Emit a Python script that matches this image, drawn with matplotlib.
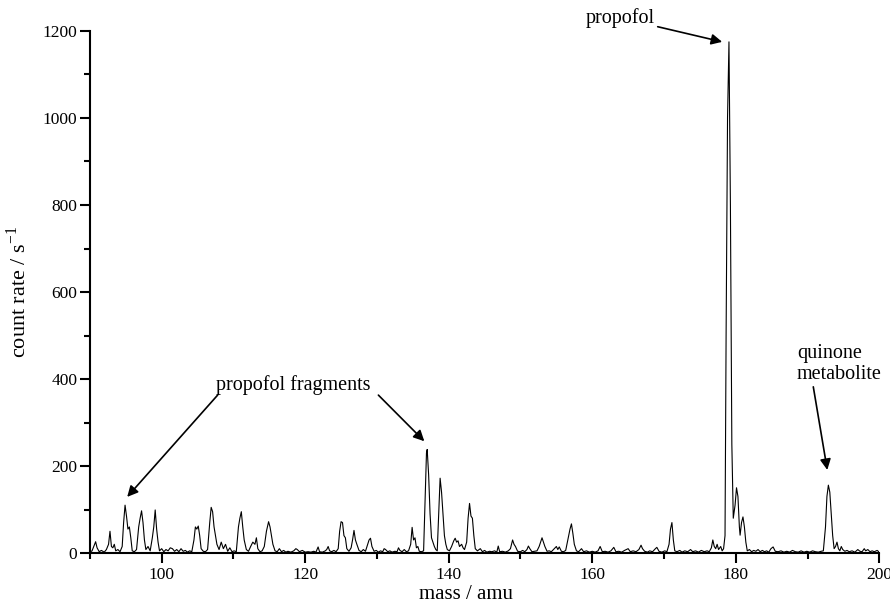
import matplotlib
matplotlib.use("Agg")
import matplotlib.pyplot as plt
import numpy as np
from matplotlib.ticker import MultipleLocator

plt.rcParams['font.family'] = ['Liberation Serif', 'DejaVu Serif']

# spectrum in four pieces (mass in amu, count rate in 1/s)
mass_a = [90.0, 90.3, 90.6, 90.8, 91.0, 91.3, 91.6, 92.0, 92.3, 92.6, 92.8, 93.0, 93.2, 93.4, 93.6,
          93.9, 94.2, 94.5, 94.7, 94.9, 95.1, 95.3, 95.5, 95.7, 95.9, 96.2, 96.5, 96.8, 97.0, 97.2,
          97.4, 97.6, 97.8, 98.1, 98.4, 98.7, 98.9, 99.1, 99.3, 99.5, 99.7, 100.0, 100.3, 100.6,
          100.9, 101.2, 101.5, 101.8, 102.1, 102.4, 102.7, 103.0, 103.3, 103.6, 103.9, 104.2, 104.5,
          104.7, 104.9, 105.1, 105.3, 105.5, 105.8, 106.1, 106.4, 106.7, 106.9, 107.1, 107.3, 107.5,
          107.7, 108.0, 108.3, 108.6, 108.9, 109.2, 109.5, 109.8, 110.1, 110.4, 110.7, 110.9, 111.1,
          111.3, 111.5, 111.8, 112.1, 112.4, 112.7, 113.0, 113.2, 113.4, 113.7, 114.0, 114.3, 114.6,
          114.9, 115.1, 115.3, 115.5, 115.8, 116.1]
rate_a = [2, 5, 18, 26, 12, 3, 6, 2, 8, 20, 50, 15, 12, 20, 5,
          8, 3, 15, 70, 110, 85, 55, 60, 35, 5, 3, 8, 60, 80, 97,
          70, 30, 8, 15, 5, 35, 60, 99, 55, 25, 5, 10, 3, 8,
          5, 12, 10, 4, 8, 3, 10, 4, 6, 2, 5, 3, 30,
          60, 55, 62, 40, 10, 4, 3, 8, 70, 105, 95, 60, 40,
          20, 8, 25, 10, 20, 4, 12, 3, 5, 3, 60, 80, 95,
          60, 30, 8, 4, 15, 25, 20, 35, 10, 3, 5, 15, 50,
          72, 60, 40, 20, 5, 3]

mass_b = [116.4, 116.7, 117.0, 117.3, 117.6, 118.0, 118.4, 118.7, 118.9, 119.2, 119.6, 120.0, 120.4,
          120.8, 121.2, 121.5, 121.8, 122.0, 122.4, 122.8, 123.0, 123.2, 123.4, 123.7, 124.0, 124.3,
          124.6, 124.8, 125.0, 125.2, 125.4, 125.6, 125.8, 126.1, 126.4, 126.6, 126.8, 127.0, 127.2,
          127.5, 127.8, 128.1, 128.4, 128.7, 128.9, 129.1, 129.3, 129.6, 129.9, 130.2, 130.5, 130.8,
          131.0, 131.2, 131.5, 131.8, 132.1, 132.5, 132.8, 133.0, 133.2, 133.5, 133.8, 134.1, 134.4,
          134.7, 134.9, 135.1, 135.3, 135.5, 135.7, 135.9, 136.2, 136.5, 136.7, 136.9, 137.0, 137.2,
          137.4, 137.6, 137.8, 138.0, 138.2, 138.4, 138.6, 138.8, 139.0, 139.2, 139.4, 139.6, 139.8,
          140.1, 140.4, 140.7, 140.9, 141.1, 141.3, 141.5, 141.8, 142.0, 142.2, 142.5, 142.7, 142.9,
          143.1, 143.3, 143.5, 143.7, 144.0, 144.4, 144.7]
rate_b = [10, 3, 6, 2, 4, 2, 5, 10, 8, 3, 6, 2, 3,
          2, 4, 2, 14, 3, 2, 5, 8, 15, 5, 3, 6, 3,
          10, 50, 72, 70, 40, 35, 10, 4, 12, 30, 52, 30, 20,
          6, 3, 8, 4, 20, 30, 34, 15, 4, 6, 2, 5, 3,
          10, 8, 3, 5, 2, 4, 3, 12, 6, 3, 8, 3, 5,
          20, 59, 30, 35, 12, 15, 4, 3, 5, 120, 230, 238, 180,
          90, 35, 25, 15, 8, 5, 90, 172, 140, 90, 40, 20, 8,
          5, 15, 28, 34, 25, 28, 15, 20, 12, 8, 25, 80, 114,
          85, 80, 40, 10, 5, 10, 3]

mass_c = [145.0, 145.3, 145.7, 146.0, 146.4, 146.7, 146.9, 147.1, 147.5, 147.9, 148.3, 148.6, 148.9,
          149.1, 149.3, 149.6, 150.0, 150.3, 150.6, 150.9, 151.1, 151.3, 151.6, 152.0, 152.3, 152.6,
          152.8, 153.0, 153.2, 153.4, 153.7, 154.0, 154.3, 154.7, 155.0, 155.2, 155.4, 155.7, 156.0,
          156.3, 156.6, 156.9, 157.1, 157.3, 157.5, 157.8, 158.1, 158.5, 158.8, 159.2, 159.6, 160.0,
          160.4, 160.8, 161.1, 161.4, 161.8, 162.2, 162.6, 163.0, 163.3, 163.7, 164.1, 164.5, 165.0,
          165.3, 165.7, 166.1, 166.5, 166.8, 167.0, 167.3, 167.7, 168.0, 168.4, 168.8, 169.0, 169.3,
          169.7, 170.1, 170.4, 170.7, 170.9, 171.1, 171.3, 171.5, 171.8, 172.2, 172.5, 172.9, 173.3,
          173.7, 174.0, 174.4, 174.8, 175.2, 175.6, 176.0, 176.3, 176.6, 176.8, 177.0, 177.2, 177.4,
          177.6, 177.9, 178.1, 178.3]
rate_c = [6, 2, 4, 3, 5, 2, 16, 3, 4, 2, 5, 10, 30,
          20, 15, 4, 3, 6, 3, 8, 16, 10, 3, 4, 5, 15,
          25, 35, 25, 15, 4, 5, 3, 10, 15, 8, 14, 4, 3,
          6, 30, 55, 67, 45, 20, 5, 3, 10, 3, 5, 2, 4,
          2, 5, 15, 3, 4, 2, 5, 13, 3, 4, 2, 6, 10,
          3, 5, 3, 8, 18, 10, 4, 2, 5, 3, 10, 13, 4,
          2, 5, 3, 20, 55, 70, 30, 5, 3, 6, 2, 5, 3,
          8, 3, 5, 2, 6, 3, 5, 3, 12, 30, 15, 10, 20,
          8, 15, 5, 10]

mass_d = [178.5, 178.65, 178.85, 179.05, 179.25, 179.45, 179.65, 179.9, 180.1, 180.3, 180.5, 180.6,
          180.8, 181.0, 181.2, 181.4, 181.6, 181.9, 182.2, 182.5, 182.8, 183.1, 183.4, 183.7, 184.0,
          184.3, 184.6, 184.9, 185.2, 185.5, 185.9, 186.3, 186.7, 187.1, 187.5, 187.9, 188.3, 188.7,
          189.1, 189.5, 189.9, 190.3, 190.7, 191.1, 191.5, 191.9, 192.2, 192.5, 192.7, 192.9, 193.1,
          193.3, 193.5, 193.7, 193.9, 194.1, 194.3, 194.5, 194.7, 194.9, 195.2, 195.5, 195.8, 196.2,
          196.6, 197.0, 197.3, 197.6, 197.9, 198.1, 198.4, 198.7, 199.0, 199.3, 199.7, 200.0]
rate_d = [40, 500, 1000, 1175, 800, 250, 80, 110, 150, 130, 60, 41,
          70, 83, 60, 25, 5, 8, 3, 6, 4, 8, 3, 6, 3,
          5, 2, 10, 14, 4, 3, 5, 2, 4, 2, 6, 3, 2,
          5, 2, 4, 2, 5, 3, 2, 4, 5, 60, 130, 156, 140,
          90, 40, 10, 15, 25, 10, 5, 15, 8, 4, 6, 3, 5,
          2, 8, 4, 3, 10, 5, 8, 3, 5, 3, 6, 2]

mass = np.concatenate([mass_a, mass_b, mass_c, mass_d])
rate = np.concatenate([rate_a, rate_b, rate_c, rate_d])

fig = plt.figure(figsize=(8.9, 6.04), dpi=100)
ax = fig.add_axes([0.101, 0.0844, 0.887, 0.8643])

ax.plot(mass, rate, color='black', lw=0.8)

ax.set_xlim(90, 200)
ax.set_ylim(0, 1200)
ax.xaxis.set_major_locator(MultipleLocator(20))
ax.xaxis.set_minor_locator(MultipleLocator(10))
ax.yaxis.set_major_locator(MultipleLocator(200))
ax.yaxis.set_minor_locator(MultipleLocator(100))

for s in ['top', 'right']:
    ax.spines[s].set_visible(False)
for s in ['left', 'bottom']:
    ax.spines[s].set_linewidth(1.5)

ax.tick_params(which='major', direction='out', length=7, width=1.5, labelsize=12.5, pad=2)
ax.tick_params(which='minor', direction='out', length=4, width=1.5)
ax.tick_params(axis='x', which='major', pad=3)

ax.set_xlabel("mass / amu", fontsize=15)
ax.xaxis.set_label_coords(0.477, -0.061)
ax.set_ylabel("count rate / s$^{\\mathregular{-1}}$", fontsize=16)
ax.yaxis.set_label_coords(-0.075, 0.5)

arrow = dict(arrowstyle='-|>', color='black', lw=1.2, mutation_scale=16, shrinkA=0, shrinkB=0)

ax.annotate("propofol", xy=(178.1, 1175), xytext=(159.1, 1230), fontsize=14.5,
            ha='left', va='center', arrowprops=arrow, annotation_clip=False)

ax.text(107.6, 386, "propofol fragments", fontsize=14.5, ha='left', va='center')
ax.annotate("", xy=(95.2, 129), xytext=(107.8, 363), arrowprops=arrow)
ax.annotate("", xy=(136.6, 257), xytext=(130.2, 363), arrowprops=arrow)

ax.text(188.5, 434, "quinone\nmetabolite", fontsize=14.5, ha='left', va='center', linespacing=1.15)
ax.annotate("", xy=(192.75, 191), xytext=(190.8, 382), arrowprops=arrow)

fig.savefig("out.png", dpi=100)
